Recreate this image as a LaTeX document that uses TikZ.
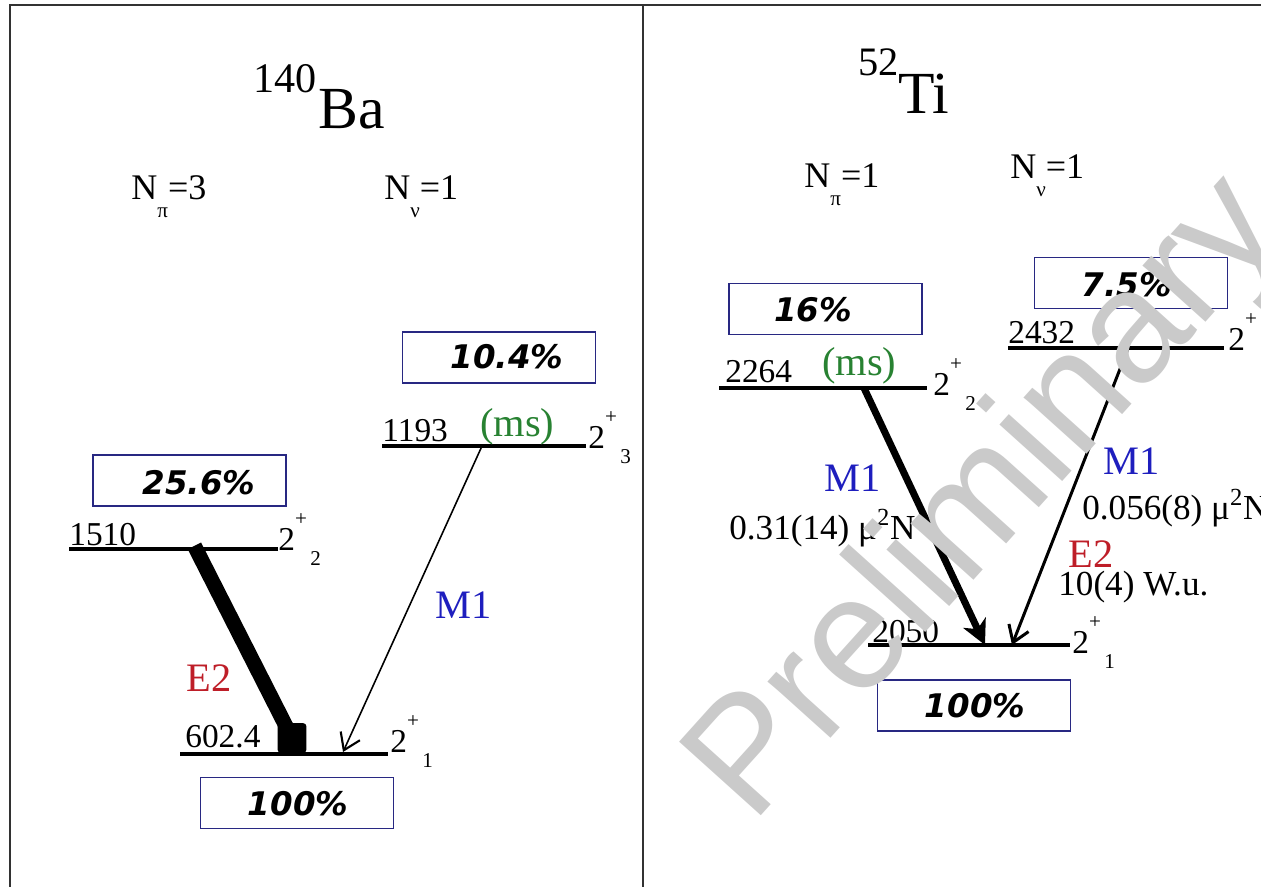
\documentclass[tikz,border=0pt]{standalone}
\usepackage{fontspec}
\setmainfont{Liberation Serif}
\newfontfamily\pctfont{DejaVu Sans}
\newfontfamily\wmfont{Liberation Sans}
\usetikzlibrary{arrows.meta}
\definecolor{boxblue}{RGB}{40,40,130}
\definecolor{msgreen}{RGB}{40,130,50}
\definecolor{mblue}{RGB}{30,30,190}
\definecolor{ered}{RGB}{190,30,40}
\definecolor{wmgray}{RGB}{202,202,202}
\definecolor{framegray}{RGB}{50,50,50}
\newcommand\fs[1]{\fontsize{#1}{#1}\selectfont}
\newcommand\jlev[1]{\fs{19}2\raisebox{0.72em}{\fs{12}+}\raisebox{-0.45em}{\fs{12}\,#1}}
\newcommand\npi[1]{\fs{20.5}N\raisebox{-0.5em}{\fs{12}π}=#1}
\newcommand\nnu[1]{\fs{20.5}N\raisebox{-0.5em}{\fs{12}ν}=#1}
\tikzset{
  lbl/.style={inner sep=0pt, anchor=base west},
  lev/.style={line width=2pt, black},
  pbox/.style={draw=boxblue, line width=0.8pt, inner sep=0pt, minimum width=193*0.02cm, minimum height=51*0.02cm},
  ptxt/.style={inner sep=0pt, font=\pctfont\bfseries\itshape\fs{18.5}},
  energy/.style={lbl, font=\fs{19}},
  ms/.style={lbl, text=msgreen, font=\fs{23}},
  mone/.style={lbl, text=mblue, font=\fs{23}},
  etwo/.style={lbl, text=ered, font=\fs{23}},
  val/.style={lbl, font=\fs{20}},
  frame/.style={line width=1.3pt, framegray},
  blockhead/.style={fill=black, inner sep=0pt, minimum width=16.5pt, minimum height=17pt, rounded corners=2pt}
}
\begin{document}
\begin{tikzpicture}[x=0.02cm,y=-0.02cm]
\useasboundingbox (0,0) rectangle (1261,886);
% frame
\coordinate (ftl) at (10,5);
\coordinate (ftr) at (1262,5);
\coordinate (fbl) at (10,887);
\coordinate (fdt) at (643,5);
\coordinate (fdb) at (643,887);
\draw[frame] (fbl) -- (ftl) -- (ftr);
\draw[frame] (fdt) -- (fdb);

% ===== 140Ba =====
\node[lbl, font=\fs{24}] (ba140) at (253,92) {140};
\node[lbl, font=\fs{34}] (ba) at (318,128) {Ba};
\node[lbl] (banpi) at (131,199) {\npi{3}};
\node[lbl] (bannu) at (384,199) {\nnu{1}};

% levels
\coordinate (b3l) at (382,446); \coordinate (b3r) at (586,446);
\coordinate (b2l) at (69,549);  \coordinate (b2r) at (278,549);
\coordinate (b1l) at (180,754); \coordinate (b1r) at (388,754);
\draw[lev] (b3l) -- (b3r);
\draw[lev] (b2l) -- (b2r);
\draw[lev] (b1l) -- (b1r);
\node[energy] (be3) at (382,441) {1193};
\node[ms] (bms) at (480,436) {(ms)};
\node[lbl] (bj3) at (588,448) {\jlev{3}};
\node[energy] (be2) at (69,545) {1510};
\node[lbl] (bj2) at (278,550) {\jlev{2}};
\node[energy] (be1) at (185,747) {602.4};
\node[lbl] (bj1) at (390,752) {\jlev{1}};

% boxes
\node[pbox] (bbox3) at (499,357.5) {};
\node[ptxt] (bp3) at (507,357) {10.4\%};
\node[pbox] (bbox2) at (189.5,480.5) {};
\node[ptxt] (bp2) at (199,483) {25.6\%};
\node[pbox] (bbox1) at (297,803) {};
\node[ptxt] (bp1) at (298,804) {100\%};

% transitions
\coordinate (be2s) at (196,549);
\node[blockhead] (be2head) at (292,738) {};
\coordinate (bm1s) at (482,446);
\coordinate (bm1e) at (343,752);
\draw[line width=8.5pt, shorten <=-2pt] (be2s) -- (be2head.center);
\draw[line width=0.9pt, -{Straight Barb[length=9pt,width=12pt,line width=1.2pt]}] (bm1s) -- (bm1e);
\node[etwo] (be2lbl) at (186,691) {E2};
\node[mone] (bm1lbl) at (435,618) {M1};

% ===== 52Ti =====
\node[lbl, font=\fs{23}] (ti52) at (858,75) {52};
\node[lbl, font=\fs{34}] (ti) at (898,113) {Ti};
\node[lbl] (tinpi) at (804,187) {\npi{1}};
\node[lbl] (tinnu) at (1010,178) {\nnu{1}};

\coordinate (t2l) at (719,388);  \coordinate (t2r) at (927,388);
\coordinate (t3l) at (1008,348); \coordinate (t3r) at (1224,348);
\coordinate (t1l) at (868,645);  \coordinate (t1r) at (1070,645);
\draw[lev] (t2l) -- (t2r);
\draw[lev] (t3l) -- (t3r);
\draw[lev] (t1l) -- (t1r);
\node[energy] (te2) at (725,382) {2264};
\node[ms] (tms) at (822,375) {(ms)};
\node[lbl] (tj2) at (933,395) {\jlev{2}};
\node[energy] (te3) at (1008,343) {2432};
\node[lbl] (tj3) at (1228,350) {\jlev{3}};
\node[energy] (te1) at (872,642) {2050};
\node[lbl] (tj1) at (1072,653) {\jlev{1}};

\node[pbox] (tbox2) at (825.5,309) {};
\node[ptxt] (tp2) at (813,310) {16\%};
\node[pbox] (tbox3) at (1131,283) {};
\node[ptxt] (tp3) at (1127,285) {7.5\%};
\node[pbox] (tbox1) at (974,705.5) {};
\node[ptxt] (tp1) at (975,706) {100\%};

\coordinate (tm1s) at (864,388);
\coordinate (tm1e) at (985,645);
\coordinate (tm2s) at (1129,346);
\coordinate (tm2e) at (1012,645);
\draw[line width=4pt, -{Stealth[length=14pt,width=14pt,inset=4pt]}] (tm1s) -- (tm1e);
\draw[line width=1.7pt, -{Straight Barb[length=9pt,width=12pt,line width=1.7pt]}] (tm2s) -- (tm2e);

\node[mone] (tm1lbl) at (824,491) {M1};
\node[val] (tv1) at (729,539) {0.31(14) μ\textsuperscript{2}N};
\node[mone] (tm2lbl) at (1103,474) {M1};
\node[val] (tv2) at (1082,519) {0.056(8) μ\textsuperscript{2}N};
\node[etwo] (te2lbl) at (1068,567) {E2};
\node[val] (tv3) at (1058,595) {10(4) W.u.};

% watermark
\node[lbl, rotate=48, text=wmgray, font=\wmfont\fs{91}] (wm) at (752,826) {Preliminary};
\end{tikzpicture}
\end{document}
